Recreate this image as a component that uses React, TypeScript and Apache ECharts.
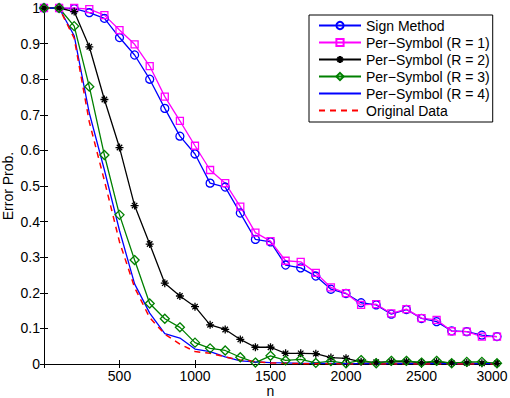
import React, { useEffect, useRef } from "react";
import * as echarts from "echarts";

const nValues = [0,100,200,300,400,500,600,700,800,900,1000,1100,1200,1300,1400,1500,1600,1700,1800,1900,2000,2100,2200,2300,2400,2500,2600,2700,2800,2900,3000];

const signMethod = [1,1,0.998,0.987,0.971,0.917,0.868,0.80,0.718,0.64,0.59,0.508,0.497,0.424,0.35,0.343,0.278,0.27,0.247,0.21,0.198,0.172,0.166,0.14,0.153,0.128,0.119,0.093,0.091,0.081,0.077];
const perSymbolR1 = [1,1,1,0.997,0.98,0.938,0.898,0.837,0.751,0.683,0.613,0.545,0.508,0.442,0.369,0.345,0.29,0.287,0.256,0.215,0.199,0.166,0.168,0.142,0.154,0.129,0.124,0.092,0.091,0.077,0.077];
const perSymbolR2 = [1,1,0.99,0.891,0.743,0.608,0.445,0.337,0.227,0.191,0.161,0.11,0.097,0.069,0.047,0.047,0.03,0.03,0.029,0.018,0.016,0.006,0.005,0.006,0.007,0.004,0.006,0.003,0.003,0.002,0.002];
const perSymbolR3 = [1,1,0.949,0.779,0.587,0.419,0.292,0.17,0.127,0.103,0.06,0.044,0.038,0.019,0.004,0.023,0.01,0.013,0.003,0.008,0.002,0.011,0.002,0.009,0.009,0.004,0.009,0.002,0.006,0.006,0.002];
const perSymbolR4 = [1,1,0.922,0.705,0.545,0.375,0.225,0.143,0.085,0.073,0.042,0.035,0.02,0.009,0.006,0.004,0.003,0.002,0.002,0.002,0.001,0.001,0.001,0.001,0.001,0.001,0.001,0.001,0.001,0.001,0.001];
const originalData = [1,1,0.915,0.68,0.515,0.343,0.215,0.13,0.084,0.056,0.035,0.03,0.02,0.011,0.007,0.003,0.002,0.001,0.001,0.001,0,0,0,0,0,0,0,0,0,0,0];

const seriesNames = ["Sign Method","Per\u2212Symbol (R = 1)","Per\u2212Symbol (R = 2)","Per\u2212Symbol (R = 3)","Per\u2212Symbol (R = 4)","Original Data"];

const FONT = "'Liberation Sans', Arial, Helvetica, sans-serif";
const STAR = "path://M5,0L5,10M0,5L10,5M1.6,1.6L8.4,8.4M1.6,8.4L8.4,1.6";

function pairs(vals: number[]) {
  return nValues.map((n, i) => [n, vals[i]]);
}

export default function App() {
  const ref = useRef<HTMLDivElement>(null);
  useEffect(() => {
    if (!ref.current) return;
    const chart = echarts.init(ref.current, null, { renderer: "svg" });
    const axisLine = { show: true, lineStyle: { color: "#000", width: 1 } };
    const tick = { show: true, inside: true, length: 4, lineStyle: { color: "#000", width: 1 } };
    const mk = (name: string, data: number[], color: string, symbol: string, size: number, dashed = false, starred = false) => {
      const lineOnly = symbol === "none";
      return {
        type: "line",
        name,
        data: pairs(data),
        symbol: lineOnly ? "circle" : symbol,
        symbolSize: size,
        showSymbol: !lineOnly,
        lineStyle: { color, width: dashed ? 1.5 : 1.3, type: dashed ? [6, 5] : "solid" },
        itemStyle: lineOnly
          ? { color: "rgba(0,0,0,0)", borderColor: "rgba(0,0,0,0)", borderWidth: 0 }
          : { color: starred ? color : "rgba(0,0,0,0)", borderColor: color, borderWidth: 1.3 },
        emphasis: { disabled: true },
      };
    };
    chart.setOption({
      animation: false,
      backgroundColor: "#fff",
      textStyle: { fontFamily: FONT },
      grid: { left: 44, top: 8, right: 13, bottom: 34, containLabel: false, outerBoundsMode: "none" },
      legend: {
        show: true,
        orient: "vertical",
        left: 309,
        top: 15,
        itemWidth: 42,
        itemHeight: 9,
        itemGap: 2,
        padding: [3, 3, 4, 9],
        borderColor: "#000",
        borderWidth: 1,
        backgroundColor: "#fff",
        textStyle: { fontFamily: FONT, fontSize: 14, color: "#000", lineHeight: 15 },
        data: seriesNames,
      },
      xAxis: [
        {
          type: "value", min: 0, max: 3000, interval: 500, position: "bottom",
          name: "n", nameLocation: "middle", nameGap: 21, nameMoveOverlap: false,
          nameTextStyle: { fontFamily: FONT, fontSize: 14, color: "#000", lineHeight: 12 },
          axisLine, axisTick: tick, splitLine: { show: false },
          axisLabel: {
            color: "#000", fontFamily: FONT, fontSize: 14, margin: 5, lineHeight: 13,
            formatter: (v: number) => (v === 0 ? "" : v === 3000 ? "{r|3000}" : String(v)),
            rich: { r: { fontFamily: FONT, fontSize: 14, color: "#000", lineHeight: 13, padding: [0, 10, 0, 0] } },
          },
        },
        {
          type: "value", min: 0, max: 3000, interval: 500, position: "top",
          axisLine, axisTick: tick, splitLine: { show: false }, axisLabel: { show: false },
        },
      ],
      yAxis: [
        {
          type: "value", min: 0, max: 1, interval: 0.1, position: "left",
          name: "Error Prob.", nameLocation: "middle", nameGap: 29, nameRotate: 90, nameMoveOverlap: false,
          nameTextStyle: { fontFamily: FONT, fontSize: 14, color: "#000" },
          axisLine, axisTick: tick, splitLine: { show: false },
          axisLabel: { color: "#000", fontFamily: FONT, fontSize: 14, margin: 4, formatter: (v: number) => String(Math.round(v * 10) / 10) },
        },
        {
          type: "value", min: 0, max: 1, interval: 0.1, position: "right",
          axisLine, axisTick: tick, splitLine: { show: false }, axisLabel: { show: false },
        },
      ],
      series: [
        mk(seriesNames[0], signMethod, "#0000ff", "circle", 8),
        mk(seriesNames[1], perSymbolR1, "#ff00ff", "rect", 7),
        mk(seriesNames[2], perSymbolR2, "#000000", STAR, 8, false, true),
        mk(seriesNames[3], perSymbolR3, "#008000", "diamond", 9),
        mk(seriesNames[4], perSymbolR4, "#0000ff", "none", 1),
        mk(seriesNames[5], originalData, "#ff0000", "none", 1, true),
      ],
    });
    return () => chart.dispose();
  }, []);
  return <div ref={ref} style={{ width: 510, height: 398, position: "absolute", left: 0, top: 0 }} />;
}
